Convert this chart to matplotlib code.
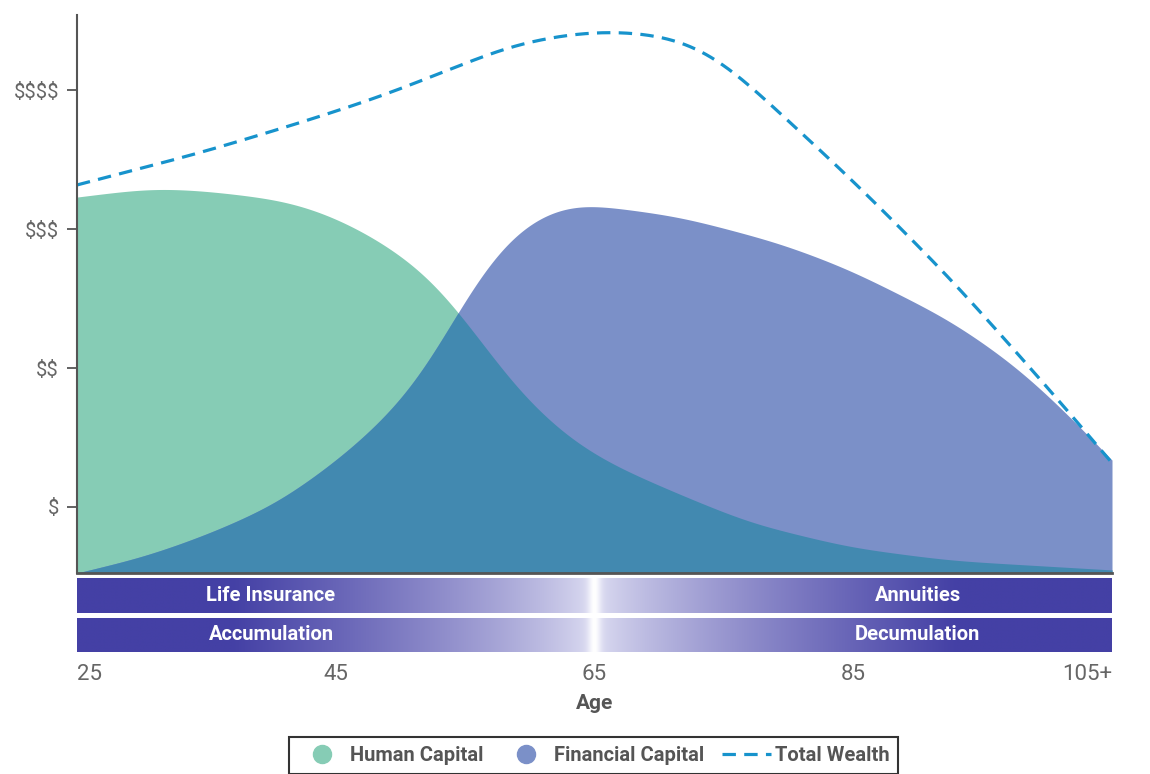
import matplotlib.pyplot as plt
import numpy as np
from matplotlib.lines import Line2D

# Wealth curves over a lifetime (units: $ = 1 ... $$$$ = 4)
human_age = [25, 30.6, 34.5, 40.9, 44.4, 48.4, 52.3, 54.4, 56.1, 58.7, 61.3, 63.3, 66.4, 71.6, 77.0, 84.7, 92.5, 105]
human_cap = [3.23, 3.295, 3.28, 3.21, 3.11, 2.92, 2.66, 2.42, 2.21, 1.87, 1.63, 1.47, 1.30, 1.09, 0.885, 0.71, 0.615, 0.547]

fin_age = [25, 30.2, 35.3, 40.5, 45.6, 49.5, 52.1, 54.4, 56.1, 58.7, 61.3, 63.6, 71.6, 79.3, 84.7, 92.5, 97.7, 101.5, 105]
fin_cap = [0.525, 0.642, 0.811, 1.027, 1.37, 1.70, 2.00, 2.40, 2.68, 2.98, 3.13, 3.19, 3.09, 2.90, 2.71, 2.345, 2.007, 1.676, 1.338]

total_age = [25, 34.5, 42.2, 48.4, 53.6, 58.7, 63.9, 66.4, 69.1, 71.6, 74.2, 77.0, 79.3, 84.7, 92.5, 100.2, 105]
total_wealth = [3.317, 3.547, 3.763, 3.95, 4.14, 4.33, 4.417, 4.424, 4.41, 4.37, 4.266, 4.04, 3.835, 3.374, 2.647, 1.842, 1.317]

y_ticks = [1, 2, 3, 4]
y_labels = [r'\$', r'\$\$', r'\$\$\$', r'\$\$\$\$']
x_ticks = [25, 45, 65, 85, 105]
x_labels = ['25', '45', '65', '85', '105+']
stage_rows = [('Life Insurance', 'Annuities'), ('Accumulation', 'Decumulation')]

BASE = 0.525
GREEN = '#86ccb5'
BLUE = '#7b90c8'
OVERLAP = '#4289b0'
DASH = '#1793cc'
GRAY = '#555555'
TICK_GRAY = '#666666'
FONT = 'Roboto'

STEP = 0.05
grid = np.arange(25, 105 + STEP / 2, STEP)


def smooth_curve(xs, ys, sigma=2.0):
    # piecewise-linear through the points, then a gaussian blur; ends padded linearly
    xs = np.asarray(xs, float)
    ys = np.asarray(ys, float)
    pad = int(4 * sigma / STEP)
    left = grid[0] - STEP * np.arange(pad, 0, -1)
    right = grid[-1] + STEP * np.arange(1, pad + 1)
    x_all = np.concatenate([left, grid, right])
    y_all = np.interp(x_all, xs, ys)
    s0 = (ys[1] - ys[0]) / (xs[1] - xs[0])
    s1 = (ys[-1] - ys[-2]) / (xs[-1] - xs[-2])
    y_all[:pad] = ys[0] + s0 * (left - xs[0])
    y_all[-pad:] = ys[-1] + s1 * (right - xs[-1])
    k = np.arange(-pad, pad + 1) * STEP
    kern = np.exp(-0.5 * (k / sigma) ** 2)
    kern /= kern.sum()
    return np.convolve(y_all, kern, mode='same')[pad:-pad]


fig = plt.figure(figsize=(11.5, 7.74), dpi=100)
ax = fig.add_axes([77 / 1150, 1 - 573 / 774, (1112 - 77) / 1150, (573 - 15) / 774])

h = smooth_curve(human_age, human_cap, 2.0)
f = np.maximum(smooth_curve(fin_age, fin_cap, 2.0), BASE)
tw = smooth_curve(total_age, total_wealth, 2.3)

ax.fill_between(grid, BASE, h, color=GREEN, lw=0)
ax.fill_between(grid, BASE, f, color=BLUE, lw=0)
ax.fill_between(grid, BASE, np.minimum(h, f), color=OVERLAP, lw=0)
ax.plot(grid, tw, color=DASH, lw=2.3, dashes=(4.2, 2.6))

ax.set_xlim(25, 105)
ax.set_ylim(BASE, 4.54)
ax.set_xticks([])
ax.set_yticks(y_ticks)
ax.set_yticklabels(y_labels, fontsize=14.5, color=TICK_GRAY, family=FONT)
ax.tick_params(axis='y', length=7, width=1.3, color=GRAY, pad=6)
for side in ('top', 'right'):
    ax.spines[side].set_visible(False)
ax.spines['left'].set_color(GRAY)
ax.spines['left'].set_linewidth(1.5)
ax.spines['bottom'].set_color(GRAY)
ax.spines['bottom'].set_linewidth(2)

# Stage bands: dark indigo at both ends fading to white at age 65
ages = np.linspace(25, 105, 1200)
d = np.abs(ages - 65) / 40
t = np.clip(d / 0.7, 0, 1) ** 0.75
dark = np.array([68, 64, 165]) / 255
lav = np.array([225, 225, 244]) / 255
cols = lav[None, :] * (1 - t[:, None]) + dark[None, :] * t[:, None]
peak = np.exp(-(d / 0.012) ** 2)[:, None]
cols = cols * (1 - peak) + peak
band_img = np.repeat(cols[None, :, :], 2, axis=0)

band_boxes = [(578, 613), (618, 652)]
band_axes = []
for (top, bottom), (left_txt, right_txt) in zip(band_boxes, stage_rows):
    bax = fig.add_axes([77 / 1150, 1 - bottom / 774, (1112 - 77) / 1150, (bottom - top) / 774])
    bax.imshow(band_img, aspect='auto', extent=(25, 105, 0, 1), interpolation='bilinear')
    bax.set_xlim(25, 105)
    bax.set_ylim(0, 1)
    for s in bax.spines.values():
        s.set_visible(False)
    bax.set_yticks([])
    bax.set_xticks([])
    bax.text(40, 0.5, left_txt, color='white', fontsize=14.5, fontweight='bold', family=FONT,
             ha='center', va='center')
    bax.text(90, 0.5, right_txt, color='white', fontsize=14.5, fontweight='bold', family=FONT,
             ha='center', va='center')
    band_axes.append(bax)

low = band_axes[-1]
low.set_xticks(x_ticks)
low.set_xticklabels(x_labels, fontsize=16, color=TICK_GRAY, family=FONT)
low.tick_params(axis='x', length=0, pad=9)
labels = low.get_xticklabels()
labels[0].set_ha('left')
labels[-1].set_ha('right')
low.set_xlabel('Age', fontsize=15, fontweight='bold', color=GRAY, family=FONT, labelpad=6)

handles = [
    Line2D([], [], marker='o', ls='none', markersize=13, markerfacecolor=GREEN, markeredgecolor=GREEN),
    Line2D([], [], marker='o', ls='none', markersize=13, markerfacecolor=BLUE, markeredgecolor=BLUE),
    Line2D([], [], color=DASH, lw=2.3, dashes=(4.2, 2.6)),
]
leg = fig.legend(handles, ['Human Capital', 'Financial Capital', 'Total Wealth'],
                 loc='upper center', bbox_to_anchor=(593.5 / 1150, 1 - 737 / 774), ncol=3,
                 borderaxespad=0, frameon=True, fancybox=False, edgecolor='black',
                 handlelength=2.4, handletextpad=0.2, columnspacing=0.9, borderpad=0.45,
                 prop={'family': FONT, 'weight': 'bold', 'size': 14.5})
leg.get_frame().set_linewidth(1.5)
for txt in leg.get_texts():
    txt.set_color(GRAY)

fig.savefig('out.png', dpi=100)
